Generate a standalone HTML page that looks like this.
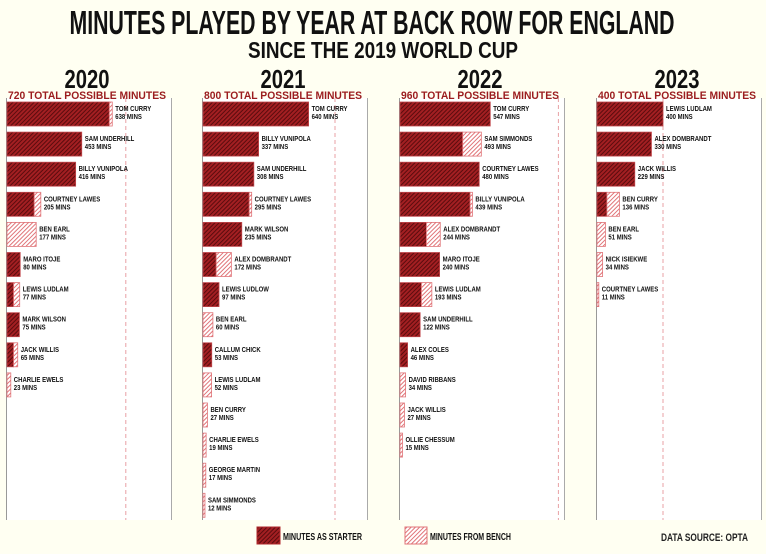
<!DOCTYPE html>
<html><head><meta charset="utf-8"><style>
html,body{margin:0;padding:0;background:#fffff2;}
svg{display:block;}
text{font-family:"Liberation Sans Narrow","Liberation Sans",sans-serif;font-weight:bold;}
</style></head><body>
<svg width="766" height="554" viewBox="0 0 766 554" xmlns="http://www.w3.org/2000/svg">
<defs>
<pattern id="ps" width="3" height="3" patternUnits="userSpaceOnUse" patternTransform="rotate(45)">
<rect width="3" height="3" fill="#a31f22"/><rect width="1" height="3" fill="#5a0c0e"/></pattern>
<pattern id="pb" width="3" height="3" patternUnits="userSpaceOnUse" patternTransform="rotate(45)">
<rect width="3" height="3" fill="#fff"/><rect width="1" height="3" fill="#e07478"/></pattern>
</defs>
<rect width="766" height="554" fill="#fffff2"/>
<text x="372" y="34" font-size="33" text-anchor="middle" textLength="605" lengthAdjust="spacingAndGlyphs" fill="#111">MINUTES PLAYED BY YEAR AT BACK ROW FOR ENGLAND</text>
<text x="383" y="58" font-size="23" text-anchor="middle" textLength="270" lengthAdjust="spacingAndGlyphs" fill="#111">SINCE THE 2019 WORLD CUP</text>
<g id="chart"></g>
<rect x="257" y="527" width="23" height="17" fill="url(#ps)" stroke="#b0282c"/>
<text x="283" y="540" font-size="10" textLength="79" lengthAdjust="spacingAndGlyphs" fill="#111">MINUTES AS STARTER</text>
<rect x="405" y="527" width="22" height="17" fill="url(#pb)" stroke="#e07478"/>
<text x="430" y="540" font-size="10" textLength="81" lengthAdjust="spacingAndGlyphs" fill="#111">MINUTES FROM BENCH</text>
<text x="661" y="541" font-size="11" textLength="87" lengthAdjust="spacingAndGlyphs" fill="#222">DATA SOURCE: OPTA</text>
</svg>
<script>
const P=[
{y:"2020",t:720,x:7,d:[["TOM CURRY",620,18],["SAM UNDERHILL",453,0],["BILLY VUNIPOLA",416,0],["COURTNEY LAWES",165,40],["BEN EARL",0,177],["MARO ITOJE",80,0],["LEWIS LUDLAM",40,37],["MARK WILSON",75,0],["JACK WILLIS",40,25],["CHARLIE EWELS",0,23]]},
{y:"2021",t:800,x:203,d:[["TOM CURRY",640,0],["BILLY VUNIPOLA",337,0],["SAM UNDERHILL",308,0],["COURTNEY LAWES",280,15],["MARK WILSON",235,0],["ALEX DOMBRANDT",80,92],["LEWIS LUDLOW",97,0],["BEN EARL",0,60],["CALLUM CHICK",53,0],["LEWIS LUDLAM",0,52],["BEN CURRY",0,27],["CHARLIE EWELS",0,19],["GEORGE MARTIN",0,17],["SAM SIMMONDS",0,12]]},
{y:"2022",t:960,x:400,d:[["TOM CURRY",547,0],["SAM SIMMONDS",380,113],["COURTNEY LAWES",480,0],["BILLY VUNIPOLA",425,14],["ALEX DOMBRANDT",160,84],["MARO ITOJE",240,0],["LEWIS LUDLAM",130,63],["SAM UNDERHILL",122,0],["ALEX COLES",46,0],["DAVID RIBBANS",0,34],["JACK WILLIS",0,27],["OLLIE CHESSUM",0,15]]},
{y:"2023",t:400,x:597,d:[["LEWIS LUDLAM",400,0],["ALEX DOMBRANDT",330,0],["JACK WILLIS",229,0],["BEN CURRY",60,76],["BEN EARL",0,51],["NICK ISIEKWE",0,34],["COURTNEY LAWES",0,11]]}];
const k=0.165,sc=0.8;let s="";
for(const p of P){
 const x0=p.x,cx=x0+80;
 s+=`<rect x="${x0-1}" y="98" width="${165}" height="422" fill="#fff"/>`;
 s+=`<line x1="${x0-0.5}" y1="98" x2="${x0-0.5}" y2="520" stroke="#999"/><line x1="${x0+164.5}" y1="98" x2="${x0+164.5}" y2="520" stroke="#aaa"/>`;
 const dx=x0+p.t*k;
 s+=`<line x1="${dx}" y1="98" x2="${dx}" y2="520" stroke="#e8a0a4" stroke-dasharray="4,3"/>`;
 s+=`<text x="${cx}" y="88" font-size="26" text-anchor="middle" textLength="45" lengthAdjust="spacingAndGlyphs" fill="#111">${p.y}</text>`;
 s+=`<text x="${cx}" y="99" font-size="11" text-anchor="middle" textLength="158" lengthAdjust="spacingAndGlyphs" fill="#9b1c1f">${p.t} TOTAL POSSIBLE MINUTES</text>`;
 p.d.forEach((r,i)=>{
  const y=102+i*30.1,ws=r[1]*k,wb=r[2]*k;
  if(ws>0)s+=`<rect x="${x0}" y="${y}" width="${ws}" height="24" fill="url(#ps)" stroke="#c0484c" stroke-width="0.8"/>`;
  if(wb>0)s+=`<rect x="${x0+ws}" y="${y}" width="${wb}" height="24" fill="url(#pb)" stroke="#e07478" stroke-width="0.8"/>`;
  const lx=(x0+ws+wb+3)/sc;
  s+=`<g transform="scale(${sc},1)"><text x="${lx}" y="${y+9}" font-size="7.5" fill="#111">${r[0]}</text><text x="${lx}" y="${y+17}" font-size="7.5" fill="#111">${r[1]+r[2]} MINS</text></g>`;
 });
}
document.getElementById("chart").innerHTML=s;
</script>
</body></html>
